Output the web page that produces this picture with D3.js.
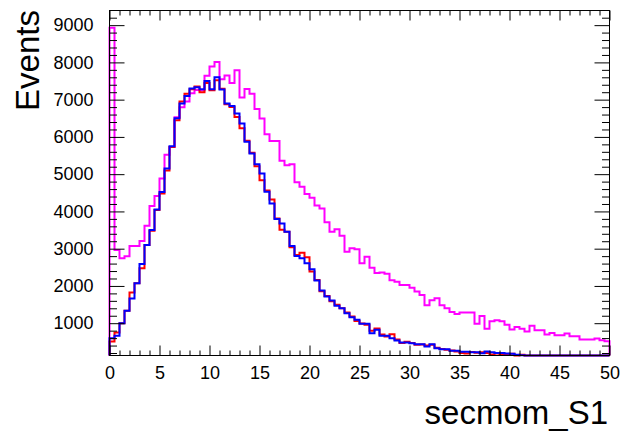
<!DOCTYPE html>
<html>
<head>
<meta charset="utf-8">
<script src="https://cdn.jsdelivr.net/npm/d3@7"></script>
<style>
  body { margin: 0; background: #fff; }
  text { font-family: "Liberation Sans", Arial, Helvetica, sans-serif; }
</style>
</head>
<body>
<div id="chart"></div>
<script>
// ── Histogram binning (100 bins of 0.5 between 0 and 50) ───────────────────
const X_MIN = 0, X_MAX = 50, BIN_WIDTH = 0.5;
const Y_MIN = 133, Y_MAX = 9393;

// bin contents, bin 0 = [0, 0.5)
const magentaCounts = [
  8930, 2965, 2742, 2800, 3071, 3071, 3205, 3617, 4143, 4411,
  4884, 5520, 5732, 6530, 6795, 6950, 7170, 7260, 7250, 7640,
  7890, 8010, 7545, 7650, 7450, 7786, 7060, 7286, 7161, 6750,
  6491, 6072, 5893, 5893, 5357, 5241, 5268, 4780, 4661, 4470,
  4370, 4160, 4080, 3710, 3456, 3520, 3350, 2920, 3015, 2985,
  2607, 2786, 2490, 2350, 2360, 2330, 2150, 2110, 2027, 2027,
  1950, 1850, 1760, 1485, 1615, 1670, 1480, 1402, 1300, 1250,
  1286, 1286, 1286,  982, 1190,  850, 1055, 1080, 1055,  955,
   830,  900,  850,  777,  933,  813,  813,  700,  740,  675,
   675,  722,  648,  648,  563,  563,  563,  590,  545,  518
];

const redCounts = [
   509,  750, 1000, 1331, 1822, 2072, 2474, 3099, 3480, 4036,
  4480, 5100, 5730, 6450, 6950, 7160, 7280, 7350, 7200, 7450,
  7250, 7520, 7290, 6880, 6800, 6537, 6233, 5900, 5573, 5215,
  4840, 4560, 4322, 3810, 3510, 3456, 3036, 2830, 2893, 2768,
  2385, 2160, 1860, 1730, 1590, 1492, 1402, 1290, 1180, 1060,
   990,  960,  800,  860,  700,  640,  706,  560,  470,  500,
   470,  420,  430,  400,  420,  340,  310,  290,  270,  240,
   200,  190,  230,  210,  220,  200,  160,  190,  170,  150,
   180,  130,  150,  120,  100,   90,   80,   70,   60,   55,
    50,   45,   40,   35,   30,   30,   25,   20,   20,   15
];

const blueCounts = [
   598,  661, 1000, 1331, 1661, 2072, 2590, 3099, 3501, 4050,
  4520, 5150, 5750, 6500, 6900, 7100, 7300, 7330, 7280, 7500,
  7280, 7600, 7270, 6900, 6830, 6626, 6358, 5867, 5555, 5269,
  5018, 4528, 4215, 3795, 3679, 3456, 3072, 2804, 2741, 2607,
  2447, 2143, 1875, 1715, 1607, 1465, 1402, 1268, 1161, 1090,
   982,  982,  732,  822,  661,  661,  598,  536,  482,  482,
   464,  438,  438,  375,  438,  330,  304,  304,  259,  259,
   232,  232,  223,  223,  196,  240,  220,  200,  200,  190,
   180,  150,  140,  135,  100,   95,   90,   80,   75,   70,
    60,   55,   50,   45,   40,   35,   30,   30,   25,   20
];

const xMajorTicks = [0, 5, 10, 15, 20, 25, 30, 35, 40, 45, 50];
const yMajorTicks = [1000, 2000, 3000, 4000, 5000, 6000, 7000, 8000, 9000];

const seriesColors = { magenta: "#ff00ff", red: "#ff0000", blue: "#0000ff" };

// ── Layout ──────────────────────────────────────────────────────────────────
const W = 623, H = 433;
const frame = { left: 109.5, right: 609.5, top: 10.5, bottom: 355.5 };

const svg = d3.select("#chart").append("svg")
  .attr("width", W).attr("height", H)
  .style("display", "block");

svg.append("rect").attr("width", W).attr("height", H).attr("fill", "#fff");

const x = d3.scaleLinear().domain([X_MIN, X_MAX]).range([frame.left, frame.right]);
const y = d3.scaleLinear().domain([Y_MIN, Y_MAX]).range([frame.bottom, frame.top]);

// ── Histograms as step outlines ────────────────────────────────────────────
function histPath(counts) {
  const p = d3.path();
  p.moveTo(x(X_MIN), y(Y_MIN));
  counts.forEach((c, i) => {
    const yy = y(Math.max(Y_MIN, Math.min(Y_MAX, c)));
    p.lineTo(x(X_MIN + i * BIN_WIDTH), yy);
    p.lineTo(x(X_MIN + (i + 1) * BIN_WIDTH), yy);
  });
  p.lineTo(x(X_MIN + counts.length * BIN_WIDTH), y(Y_MIN));
  return p.toString();
}

[[magentaCounts, seriesColors.magenta],
 [redCounts, seriesColors.red],
 [blueCounts, seriesColors.blue]].forEach(([counts, col]) => {
  svg.append("path")
    .attr("d", histPath(counts))
    .attr("fill", "none")
    .attr("stroke", col)
    .attr("stroke-width", 2)
    .attr("stroke-linejoin", "miter");
});

// ── Axes (ticks point inward, ROOT style) ──────────────────────────────────
const xMinor = d3.range(X_MIN, X_MAX + 0.001, 1).filter(v => v % 5 !== 0);
const yMinor = d3.range(200, Y_MAX, 200).filter(v => v % 1000 !== 0 && v > Y_MIN);

function styleAxis(g) {
  g.select(".domain").remove();
  g.selectAll("line").attr("stroke", "#000").attr("stroke-width", 1);
  g.selectAll("text")
    .attr("fill", "#000")
    .style("font-family", '"Liberation Sans", Arial, sans-serif')
    .style("font-size", "18px");
}

// bottom
svg.append("g").attr("transform", `translate(0,${frame.bottom})`)
  .call(d3.axisBottom(x).tickValues(xMajorTicks).tickSize(-10).tickPadding(11)
    .tickFormat(d3.format("d")))
  .call(styleAxis);
svg.append("g").attr("transform", `translate(0,${frame.bottom})`)
  .call(d3.axisBottom(x).tickValues(xMinor).tickSize(-5).tickFormat(""))
  .call(styleAxis);

// top
svg.append("g").attr("transform", `translate(0,${frame.top})`)
  .call(d3.axisTop(x).tickValues(xMajorTicks).tickSize(-10).tickFormat(""))
  .call(styleAxis);
svg.append("g").attr("transform", `translate(0,${frame.top})`)
  .call(d3.axisTop(x).tickValues(xMinor).tickSize(-5).tickFormat(""))
  .call(styleAxis);

// left
svg.append("g").attr("transform", `translate(${frame.left},0)`)
  .call(d3.axisLeft(y).tickValues(yMajorTicks).tickSize(-15).tickPadding(16)
    .tickFormat(d3.format("d")))
  .call(styleAxis);
svg.append("g").attr("transform", `translate(${frame.left},0)`)
  .call(d3.axisLeft(y).tickValues(yMinor).tickSize(-7.5).tickFormat(""))
  .call(styleAxis);

// right
svg.append("g").attr("transform", `translate(${frame.right},0)`)
  .call(d3.axisRight(y).tickValues(yMajorTicks).tickSize(-15).tickFormat(""))
  .call(styleAxis);
svg.append("g").attr("transform", `translate(${frame.right},0)`)
  .call(d3.axisRight(y).tickValues(yMinor).tickSize(-7.5).tickFormat(""))
  .call(styleAxis);

// frame
svg.append("rect")
  .attr("x", frame.left).attr("y", frame.top)
  .attr("width", frame.right - frame.left)
  .attr("height", frame.bottom - frame.top)
  .attr("fill", "none").attr("stroke", "#000").attr("stroke-width", 1);

// ── Axis titles ────────────────────────────────────────────────────────────
svg.append("text")
  .attr("x", 608).attr("y", 424)
  .attr("text-anchor", "end")
  .style("font-size", "33px")
  .text("secmom_S1");

svg.append("text")
  .attr("transform", "translate(39,10) rotate(-90)")
  .attr("text-anchor", "end")
  .style("font-size", "33px")
  .text("Events");
</script>
</body>
</html>
